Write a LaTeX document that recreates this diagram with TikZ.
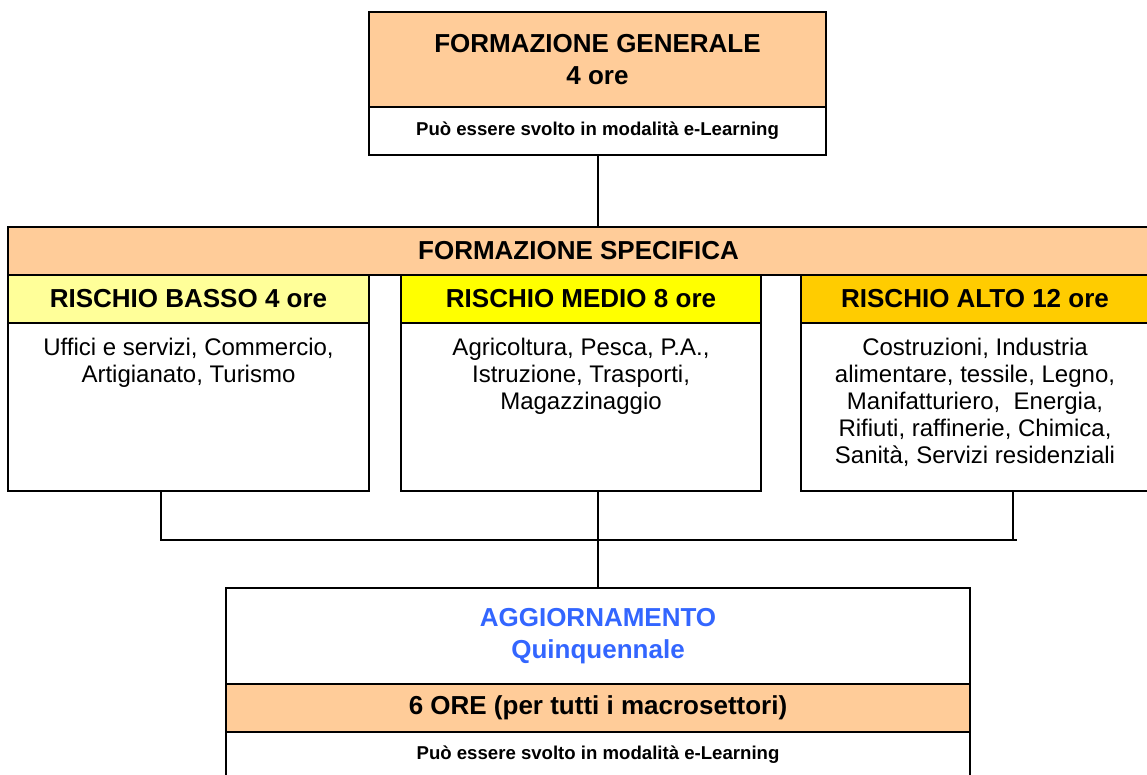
\documentclass[tikz,border=0pt]{standalone}
\usepackage{fontspec}
\setmainfont{Liberation Sans}
\definecolor{arancio}{HTML}{FFCC99}
\definecolor{giallino}{HTML}{FFFF99}
\definecolor{giallo}{HTML}{FFFF00}
\definecolor{oro}{HTML}{FFCC00}
\definecolor{blu}{HTML}{3366FF}

\begin{document}
\begin{tikzpicture}[x=1pt, y=-1pt,
  box/.style={draw, line width=2pt, rectangle, inner sep=0pt, outer sep=0pt, align=center},
  titolo/.style={box, font=\bfseries\fontsize{26}{32}\selectfont},
  nota/.style={box, fill=white, font=\bfseries\fontsize{18.6}{22}\selectfont},
  corpo/.style={box, fill=white},
  elenco/.style={inner sep=0pt, align=center, anchor=north, font=\fontsize{24}{27}\selectfont},
  filo/.style={line width=2pt}]
 \useasboundingbox (0, 0) rectangle (1147, 774);

 \draw (597.5, 59.5) node[titolo, fill=arancio, minimum width=457pt, minimum height=95pt] (Generale) {FORMAZIONE GENERALE\\4 ore};
 \draw (597.5, 131) node[nota, minimum width=457pt, minimum height=48pt] (GeneraleEL) {Può essere svolto in modalità e-Learning};

 \draw (578.5, 251) node[titolo, fill=arancio, minimum width=1141pt, minimum height=48pt] (Specifica) {FORMAZIONE SPECIFICA};

 \draw (188.5, 299) node[titolo, fill=giallino, minimum width=361pt, minimum height=48pt] (Basso) {RISCHIO BASSO 4 ore};
 \draw (188.5, 407) node[corpo, minimum width=361pt, minimum height=168pt] (BassoBox) {};
 \draw (188.5, 338) node[elenco] (BassoSettori) {Uffici e servizi, Commercio,\\Artigianato, Turismo};

 \draw (581, 299) node[titolo, fill=giallo, minimum width=360pt, minimum height=48pt] (Medio) {RISCHIO MEDIO 8 ore};
 \draw (581, 407) node[corpo, minimum width=360pt, minimum height=168pt] (MedioBox) {};
 \draw (581, 338) node[elenco] (MedioSettori) {Agricoltura, Pesca, P.A.,\\Istruzione, Trasporti,\\Magazzinaggio};

 \draw (975, 299) node[titolo, fill=oro, minimum width=348pt, minimum height=48pt] (Alto) {RISCHIO ALTO 12 ore};
 \draw (975, 407) node[corpo, minimum width=348pt, minimum height=168pt] (AltoBox) {};
 \draw (975, 338) node[elenco] (AltoSettori) {Costruzioni, Industria\\alimentare, tessile, Legno,\\Manifatturiero,~ Energia,\\Rifiuti, raffinerie, Chimica,\\Sanità, Servizi residenziali};

 \draw (598, 636) node[titolo, fill=white, text=blu, minimum width=744pt, minimum height=96pt] (Aggiornamento) {AGGIORNAMENTO\\Quinquennale};
 \draw (598, 708) node[titolo, fill=arancio, minimum width=744pt, minimum height=48pt] (SeiOre) {6 ORE (per tutti i macrosettori)};
 \draw (598, 755) node[nota, minimum width=744pt, minimum height=46pt] (SeiOreEL) {Può essere svolto in modalità e-Learning};

 \coordinate (Sx) at (161, 540);
 \coordinate (Dx) at (1013, 540);
 \coordinate (Fine) at (1017, 540);

 \draw[filo] (GeneraleEL.south) -- (GeneraleEL.south |- Specifica.north);
 \draw[filo] (Sx |- BassoBox.south) -- (Sx) -- (Fine);
 \draw[filo] (Dx |- AltoBox.south) -- (Dx);
 \draw[filo] (Aggiornamento.north) -- (Aggiornamento.north |- MedioBox.south);
\end{tikzpicture}
\end{document}
